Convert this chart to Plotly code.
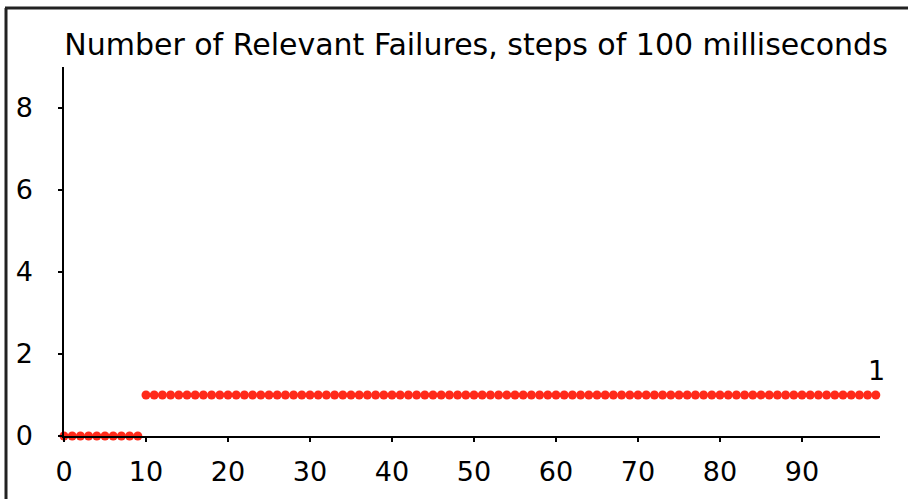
import plotly.graph_objects as go

# Data
steps = list(range(100))
failures = [0] * 10 + [1] * 90
x_ticks = [0, 10, 20, 30, 40, 50, 60, 70, 80, 90]
y_ticks = [0, 2, 4, 6, 8]
title_text = "Number of Relevant Failures, steps of 100 milliseconds"

W, H = 908, 499
L, R, T, B = 64, 28, 67, 63
pw, ph = W - L - R, H - T - B

def px_x(px):
    return (px - L) / pw

def px_y(py):
    return (H - B - py) / ph

FONT = "DejaVu Sans"

fig = go.Figure()
fig.add_trace(go.Scatter(
    x=steps, y=failures, mode="markers",
    marker=dict(color="#ff2a1a", size=9, line=dict(width=0)),
    cliponaxis=False, showlegend=False, hoverinfo="x+y",
))

fig.add_annotation(
    x=steps[-1], y=failures[-1], text=str(failures[-1]),
    showarrow=False, yshift=25, xshift=1,
    font=dict(family=FONT, size=27, color="black"),
)

fig.update_layout(
    width=W, height=H,
    margin=dict(l=L, r=R, t=T, b=B, pad=0),
    paper_bgcolor="white", plot_bgcolor="white",
    title=dict(text=title_text, x=476 / W, xref="container", xanchor="center",
               y=1 - 44 / H, yref="container", yanchor="middle",
               font=dict(family=FONT, size=30, color="black")),
    font=dict(family=FONT, size=27, color="black"),
    shapes=[
        dict(type="line", xref="paper", yref="paper",
             x0=px_x(5), x1=px_x(910), y0=px_y(8), y1=px_y(8),
             line=dict(color="#222", width=3)),
        dict(type="line", xref="paper", yref="paper",
             x0=px_x(6), x1=px_x(6), y0=px_y(8), y1=px_y(502),
             line=dict(color="#222", width=3)),
    ],
)

fig.update_xaxes(
    range=[0, pw / 8.2], tickvals=x_ticks, ticktext=[str(v) for v in x_ticks],
    showline=True, linecolor="black", linewidth=1.5,
    ticks="outside", ticklen=4, tickcolor="black", tickwidth=1.5,
    showgrid=False, zeroline=False, ticklabelstandoff=7,
    tickfont=dict(family=FONT, size=27, color="black"),
)
fig.update_yaxes(
    range=[0, 9], tickvals=y_ticks, ticktext=[str(v) for v in y_ticks],
    showline=True, linecolor="black", linewidth=1.5,
    ticks="outside", ticklen=4, tickcolor="black", tickwidth=1.5,
    showgrid=False, zeroline=False, ticklabelstandoff=20,
    tickfont=dict(family=FONT, size=27, color="black"),
)

fig.write_html("out.html", config={"displayModeBar": False},
               post_script="document.body.style.margin='0';document.body.style.overflow='hidden';")
